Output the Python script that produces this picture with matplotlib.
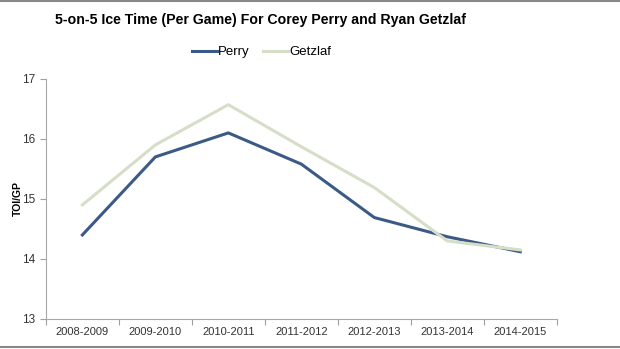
import matplotlib.pyplot as plt
import numpy as np
from matplotlib.lines import Line2D

plt.rcParams['font.family'] = ['Liberation Sans', 'DejaVu Sans']

seasons = ["2008-2009", "2009-2010", "2010-2011", "2011-2012",
           "2012-2013", "2013-2014", "2014-2015"]
perry = [14.4, 15.7, 16.1, 15.58, 14.69, 14.37, 14.12]
getzlaf = [14.9, 15.9, 16.57, 15.87, 15.19, 14.3, 14.15]

fig = plt.figure(figsize=(6.2, 3.49), dpi=100)
ax = fig.add_axes([0.074, 0.086, 0.824, 0.688])

x = np.arange(len(seasons))
ax.plot(x, perry, color='#3b5a86', lw=2.2, label='Perry')
ax.plot(x, getzlaf, color='#d6dec8', lw=2.2, label='Getzlaf')

ax.set_xlim(-0.5, len(seasons) - 0.5)
ax.set_ylim(13, 17)
ax.set_yticks([13, 14, 15, 16, 17])

# ticks at the category boundaries, labels in the middle
ax.set_xticks(np.arange(len(seasons) + 1) - 0.5)
ax.set_xticklabels([])
ax.set_xticks(x, minor=True)
ax.set_xticklabels(seasons, minor=True)
ax.tick_params(axis='x', which='minor', length=0, pad=6, labelsize=8, colors='#333333')
ax.tick_params(axis='x', which='major', length=4, color='#a0a0a0')
ax.tick_params(axis='y', length=4, color='#a0a0a0', labelsize=8.5, labelcolor='#333333')

for s in ['top', 'right']:
    ax.spines[s].set_visible(False)
for s in ['left', 'bottom']:
    ax.spines[s].set_color('#a8a8a8')

ax.set_ylabel('TOI/GP', fontsize=7.5, fontweight='bold')
ax.yaxis.set_label_coords(-0.045, 0.5)

fig.text(0.42, 0.943, '5-on-5 Ice Time (Per Game) For Corey Perry and Ryan Getzlaf',
         ha='center', va='center', fontsize=10.2, fontweight='bold')
fig.legend(loc='center', bbox_to_anchor=(0.422, 0.851), ncol=2, frameon=False,
           fontsize=9.5, handlelength=1.9, handletextpad=0.1, columnspacing=1.0)

# grey frame lines at top and bottom of the image
fig.add_artist(Line2D([0, 1], [0.997, 0.997], color='#888888', lw=1.5))
fig.add_artist(Line2D([0, 1], [0.006, 0.006], color='#888888', lw=1.5))

fig.savefig('out.png', dpi=100)
